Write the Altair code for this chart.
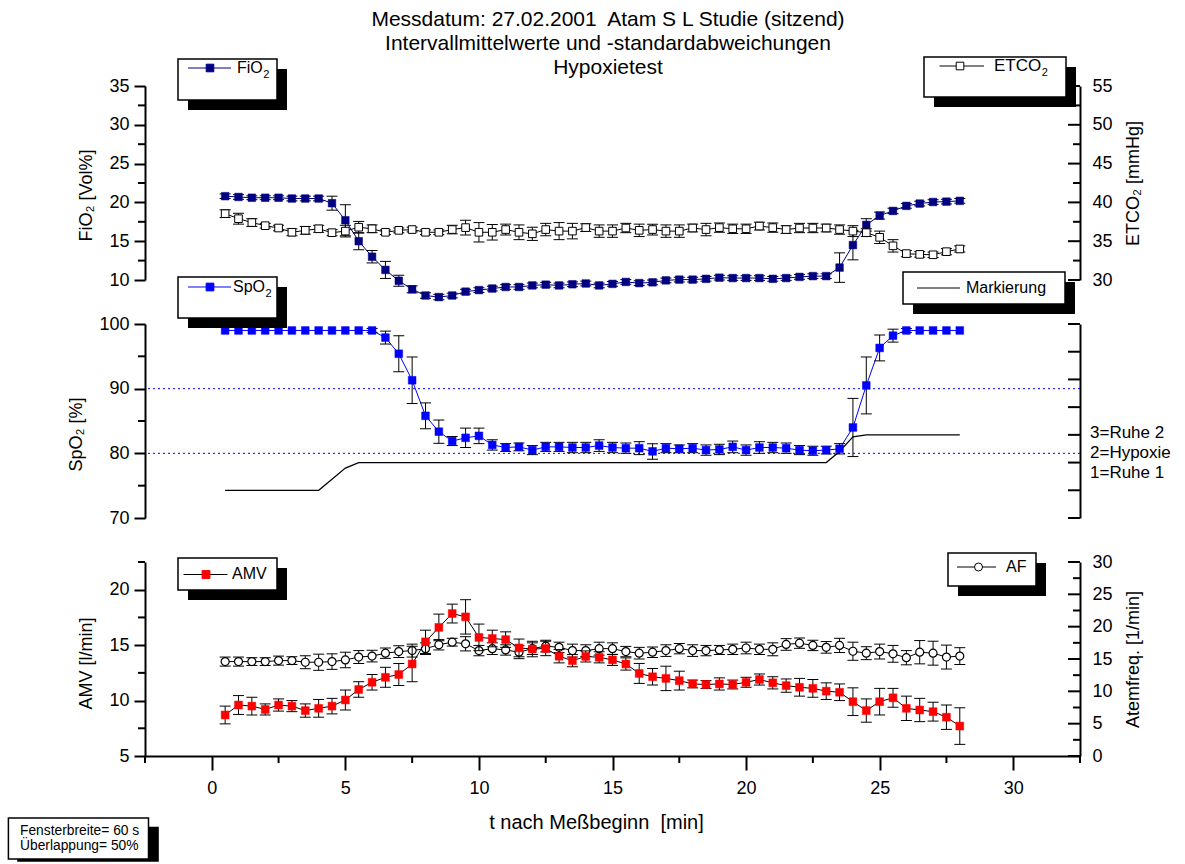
import altair as alt
import pandas as pd

FONT = "Liberation Sans"
W, H, GAP = 935, 194, 44
OX = 145
OY_TOP, OY_MID, OY_BOT = 86, 324, 562

# ---------------- data ----------------
T = [0.5, 1.0, 1.5, 2.0, 2.5, 3.0, 3.5, 4.0, 4.5, 5.0,
     5.5, 6.0, 6.5, 7.0, 7.5, 8.0, 8.5, 9.0, 9.5, 10.0,
     10.5, 11.0, 11.5, 12.0, 12.5, 13.0, 13.5, 14.0, 14.5, 15.0,
     15.5, 16.0, 16.5, 17.0, 17.5, 18.0, 18.5, 19.0, 19.5, 20.0,
     20.5, 21.0, 21.5, 22.0, 22.5, 23.0, 23.5, 24.0, 24.5, 25.0,
     25.5, 26.0, 26.5, 27.0, 27.5, 28.0]

FIO2 = [20.8, 20.7, 20.6, 20.6, 20.6, 20.5, 20.5, 20.5, 19.9, 17.7,
        15.0, 13.0, 11.3, 9.9, 8.8, 8.0, 7.8, 8.0, 8.5, 8.7,
        8.9, 9.1, 9.1, 9.3, 9.4, 9.3, 9.45, 9.55, 9.3, 9.5,
        9.75, 9.6, 9.7, 9.95, 10.05, 10.05, 10.15, 10.3, 10.25, 10.25,
        10.25, 10.15, 10.25, 10.4, 10.5, 10.5, 11.6, 14.5, 17.1, 18.3,
        18.9, 19.55, 19.85, 20.05, 20.1, 20.2]
FIO2_ERR = [0.3, 0.3, 0.25, 0.25, 0.25, 0.3, 0.3, 0.3, 0.9, 2.0,
            1.1, 0.8, 1.1, 0.7, 0.45, 0.35, 0.35, 0.3, 0.3, 0.3,
            0.3, 0.3, 0.3, 0.3, 0.3, 0.3, 0.3, 0.3, 0.3, 0.3,
            0.3, 0.3, 0.3, 0.3, 0.3, 0.3, 0.3, 0.3, 0.3, 0.3,
            0.3, 0.3, 0.3, 0.3, 0.3, 0.3, 1.9, 1.9, 0.8, 0.45,
            0.35, 0.3, 0.3, 0.3, 0.3, 0.3]

ETCO2 = [38.55, 37.9, 37.4, 37.0, 36.7, 36.15, 36.4, 36.6, 36.1, 36.3,
         36.8, 36.6, 36.15, 36.4, 36.5, 36.15, 36.15, 36.5, 36.75, 36.15,
         36.15, 36.5, 36.15, 35.95, 36.5, 36.3, 36.3, 36.75, 36.3, 36.3,
         36.7, 36.4, 36.5, 36.3, 36.3, 36.7, 36.5, 36.75, 36.6, 36.6,
         36.95, 36.75, 36.5, 36.7, 36.7, 36.7, 36.5, 36.3, 36.1, 35.5,
         34.4, 33.4, 33.3, 33.25, 33.65, 34.0]
ETCO2_ERR = [0.5, 0.7, 0.5, 0.3, 0.35, 0.45, 0.5, 0.45, 0.4, 0.75,
             0.75, 0.5, 0.3, 0.3, 0.3, 0.3, 0.3, 0.55, 0.95, 1.25,
             1.0, 0.7, 0.95, 0.85, 0.8, 1.1, 1.0, 0.5, 0.8, 0.8,
             0.6, 0.8, 0.7, 0.8, 0.8, 0.5, 0.8, 0.6, 0.6, 0.6,
             0.5, 0.6, 0.5, 0.6, 0.6, 0.5, 0.6, 0.7, 0.5, 0.8,
             0.8, 0.4, 0.35, 0.35, 0.4, 0.4]

SPO2 = [99.0, 99.0, 99.0, 99.0, 99.0, 99.0, 99.0, 99.0, 99.0, 99.0,
        99.0, 99.0, 97.9, 95.4, 91.3, 85.8, 83.35, 81.9, 82.4, 82.7,
        81.3, 80.9, 81.0, 80.5, 81.0, 81.0, 80.9, 80.9, 81.2, 80.9,
        80.8, 80.8, 80.3, 80.8, 80.7, 80.8, 80.5, 80.6, 81.0, 80.5,
        80.9, 80.9, 80.8, 80.5, 80.4, 80.5, 80.7, 84.0, 90.5, 96.3,
        98.2, 99.0, 99.0, 99.0, 99.0, 99.0]
SPO2_ERR = [0, 0, 0, 0, 0, 0, 0, 0, 0, 0,
            0, 0.3, 1.0, 2.8, 3.6, 2.0, 1.8, 0.7, 1.5, 1.2,
            0.8, 0.6, 0.6, 0.7, 0.7, 0.7, 0.8, 0.8, 0.9, 0.8,
            0.8, 1.0, 1.2, 0.7, 0.6, 0.7, 0.8, 0.8, 0.9, 0.8,
            0.9, 0.8, 0.8, 0.7, 0.7, 0.6, 0.8, 4.5, 4.4, 2.0,
            1.0, 0.3, 0, 0, 0, 0]

MARK = [1, 1, 1, 1, 1, 1, 1, 1, 1.4, 1.8,
        2, 2, 2, 2, 2, 2, 2, 2, 2, 2,
        2, 2, 2, 2, 2, 2, 2, 2, 2, 2,
        2, 2, 2, 2, 2, 2, 2, 2, 2, 2,
        2, 2, 2, 2, 2, 2, 2.4, 2.93, 3, 3,
        3, 3, 3, 3, 3, 3]

AMV = [8.7, 9.6, 9.5, 9.2, 9.6, 9.5, 9.1, 9.3, 9.5, 10.05,
       11.0, 11.65, 12.1, 12.35, 13.3, 15.3, 16.6, 17.85, 17.55, 15.7,
       15.6, 15.5, 14.75, 14.65, 14.7, 14.0, 13.6, 13.98, 13.9, 13.67,
       13.3, 12.45, 12.15, 12.0, 11.8, 11.5, 11.45, 11.5, 11.45, 11.65,
       11.9, 11.6, 11.35, 11.2, 11.1, 10.85, 10.75, 9.9, 9.1, 9.9,
       10.25, 9.3, 9.15, 9.0, 8.5, 7.7]
AMV_ERR = [0.8, 0.85, 0.8, 0.5, 0.55, 0.5, 0.6, 0.8, 0.7, 0.9,
           0.7, 0.7, 0.9, 1.0, 1.6, 1.05, 1.2, 0.85, 1.55, 1.2,
           0.75, 0.7, 0.8, 0.7, 0.65, 0.6, 0.55, 0.5, 0.5, 0.5,
           0.55, 0.9, 0.75, 1.1, 0.85, 0.35, 0.35, 0.55, 0.4, 0.45,
           0.5, 0.55, 0.6, 0.8, 0.8, 0.75, 0.75, 1.25, 1.05, 1.2,
           0.85, 1.1, 1.05, 0.85, 1.1, 1.65]

AF = [14.6, 14.6, 14.6, 14.6, 14.75, 14.75, 14.5, 14.5, 14.6, 14.85,
      15.3, 15.45, 15.9, 16.15, 16.3, 16.6, 17.2, 17.6, 17.35, 16.3,
      16.6, 16.4, 16.05, 16.6, 17.0, 16.8, 16.3, 16.3, 16.6, 16.6,
      16.15, 15.9, 16.05, 16.3, 16.6, 16.3, 16.3, 16.4, 16.5, 16.7,
      16.5, 16.5, 17.25, 17.45, 17.1, 16.8, 17.1, 16.2, 15.9, 16.15,
      15.8, 15.2, 16.05, 15.9, 15.3, 15.45]
AF_ERR = [0.7, 0.7, 0.6, 0.6, 0.7, 0.6, 1.0, 1.25, 1.2, 1.2,
          1.0, 0.9, 0.8, 0.9, 1.0, 0.9, 0.8, 0.6, 1.1, 0.8,
          0.9, 0.8, 1.0, 0.9, 0.9, 0.8, 1.0, 0.9, 1.0, 0.9,
          0.8, 0.9, 0.8, 0.9, 0.8, 0.9, 0.8, 0.7, 0.8, 0.9,
          0.8, 1.0, 0.9, 0.8, 0.8, 0.9, 1.1, 1.4, 1.0, 1.15,
          1.3, 1.1, 1.8, 1.85, 1.85, 1.3]

TITLE_LINES = ["Messdatum: 27.02.2001\u00a0 Atam S L Studie (sitzend)",
               "Intervallmittelwerte und -standardabweichungen",
               "Hypoxietest"]
MARK_LABELS = ["3=Ruhe 2", "2=Hypoxie", "1=Ruhe 1"]
NOTE_LINES = ["Fensterbreite= 60 s", "\u00dcberlappung= 50%"]

X_MAJOR = [0, 5, 10, 15, 20, 25, 30]
X_MINOR = [-2.5, 2.5, 7.5, 12.5, 17.5, 22.5, 27.5, 32.5]
FIO2_MAJOR = [10, 15, 20, 25, 30, 35]
FIO2_MINOR = [12.5, 17.5, 22.5, 27.5, 32.5]
ETCO2_MAJOR = [30, 35, 40, 45, 50, 55]
ETCO2_MINOR = [32.5, 37.5, 42.5, 47.5, 52.5]
SPO2_MAJOR = [70, 80, 90, 100]
SPO2_MINOR = [75, 85, 95]
SPO2_REF = [80, 90]
MARK_TICKS = [0, 1, 2, 3, 4, 5, 6, 7]
AMV_MAJOR = [5, 10, 15, 20]
AMV_MINOR = [7.5, 12.5, 17.5, 22.5]
AF_MAJOR = [0, 5, 10, 15, 20, 25, 30]
AF_MINOR = [2.5, 7.5, 12.5, 17.5, 22.5, 27.5]

NAVY, BLUE, RED = "#000080", "#0000ff", "#ff0000"

df = pd.DataFrame(dict(t=T, fio2=FIO2, fio2_e=FIO2_ERR, etco2=ETCO2, etco2_e=ETCO2_ERR,
                       spo2=SPO2, spo2_e=SPO2_ERR, mark=MARK, amv=AMV, amv_e=AMV_ERR,
                       af=AF, af_e=AF_ERR))
ONE = pd.DataFrame({"k": [0]})

XSCALE = alt.Scale(domain=[-2.5, 32.5], nice=False, zero=False)

CW = {"F": .611, "i": .222, "O": .778, "E": .667, "T": .611, "C": .722, "S": .667, "p": .556}


def tw(s, size):
    return sum(CW.get(c, .556) for c in s) * size


def laxis(values, title, title_y):
    return alt.Axis(orient="left", values=values, tickSize=11, tickWidth=2, tickColor="black",
                    domainWidth=2, domainColor="black", labelFont=FONT, labelFontSize=18,
                    labelColor="black", labelPadding=5, labelOverlap=False, labelFlush=False,
                    grid=False, title=title, titleFont=FONT, titleFontSize=18,
                    titleFontWeight="normal", titleColor="black", titlePadding=13, titleY=title_y)


def raxis(values, title):
    return alt.Axis(orient="right", values=values, ticks=False, domainWidth=2, domainColor="black",
                    labelFont=FONT, labelFontSize=18, labelColor="black", labelPadding=12,
                    labelOverlap=False, labelFlush=False, grid=False, title=title, titleFont=FONT,
                    titleFontSize=18, titleFontWeight="normal", titleColor="black",
                    titlePadding=12, titleAngle=270, titleBaseline="top")


XAXIS = alt.Axis(values=X_MAJOR, tickSize=14, tickWidth=2, tickColor="black", domainWidth=2,
                 domainColor="black", labelFont=FONT, labelFontSize=18, labelColor="black",
                 labelPadding=9, labelFlush=False, labelOverlap=False, grid=False,
                 title="t nach Me\u00dfbeginn\u00a0\u00a0[min]", titleFont=FONT, titleFontSize=20,
                 titleFontWeight="normal", titleColor="black", titlePadding=15, titleX=451)


def xenc(axis, field="t"):
    return alt.X(f"{field}:Q", scale=XSCALE, axis=axis)


def series(col, ecol, scale, line_color, shape, fill, stroke, size, axis, xaxis, sw=1.0):
    base = alt.Chart(df)
    line = base.mark_line(color=line_color, strokeWidth=1).encode(
        x=xenc(xaxis), y=alt.Y(f"{col}:Q", scale=scale, axis=axis))
    eb = base.transform_filter(f"datum.{ecol} > 0").transform_calculate(
        lo=f"datum.{col} - datum.{ecol}", hi=f"datum.{col} + datum.{ecol}")
    rule = eb.mark_rule(color="black", strokeWidth=1).encode(
        x=xenc(xaxis), y=alt.Y("lo:Q", scale=scale, axis=axis), y2="hi:Q")
    cap_lo = eb.mark_tick(orient="horizontal", color="black", size=11, thickness=1, opacity=1).encode(
        x=xenc(xaxis), y=alt.Y("lo:Q", scale=scale, axis=axis))
    cap_hi = eb.mark_tick(orient="horizontal", color="black", size=11, thickness=1, opacity=1).encode(
        x=xenc(xaxis), y=alt.Y("hi:Q", scale=scale, axis=axis))
    pts = base.mark_point(shape=shape, filled=True, fill=fill, stroke=stroke, strokeWidth=sw,
                          size=size, opacity=1).encode(
        x=xenc(xaxis), y=alt.Y(f"{col}:Q", scale=scale, axis=axis))
    return [line, rule, cap_lo, cap_hi, pts]


def yticks(values, scale, axis, x0, x1):
    d = pd.DataFrame({"v": values})
    return alt.Chart(d).mark_rule(color="black", strokeWidth=2).encode(
        y=alt.Y("v:Q", scale=scale, axis=axis), x=alt.value(x0), x2=alt.value(x1))


def prect(x0, y0, x1, y1, oy, **kw):
    return alt.Chart(ONE).mark_rect(**kw).encode(
        x=alt.value(x0 - OX), x2=alt.value(x1 - OX), y=alt.value(y0 - oy), y2=alt.value(y1 - oy))


def ptext(x, y, s, oy, size=16, align="left"):
    return alt.Chart(ONE).mark_text(align=align, baseline="middle", font=FONT, fontSize=size,
                                    color="black").encode(
        x=alt.value(x - OX), y=alt.value(y - oy), text=alt.value(s))


def pline(x0, x1, y, oy, color, width=1.0):
    return alt.Chart(ONE).mark_rule(color=color, strokeWidth=width).encode(
        x=alt.value(x0 - OX), x2=alt.value(x1 - OX), y=alt.value(y - oy))


def ppoint(x, y, oy, shape, fill, stroke, size, sw=1.0):
    return alt.Chart(ONE).mark_point(shape=shape, filled=True, fill=fill, stroke=stroke,
                                     strokeWidth=sw, size=size, opacity=1).encode(
        x=alt.value(x - OX), y=alt.value(y - oy))


def legend(box, oy, label, tpos, sub=None, line=None, marker=None, shadow=(10, 10), size=16):
    x0, y0, x1, y1 = box
    parts = [prect(x0 + shadow[0], y0 + shadow[1], x1 + shadow[0], y1 + shadow[1], oy, fill="black"),
             prect(x0, y0, x1, y1, oy, fill="white", stroke="black", strokeWidth=1.5)]
    if line:
        lx0, lx1, ly, lc = line
        parts.append(pline(lx0, lx1, ly, oy, lc))
    if marker:
        mx, my, shape, fill, stroke, msize = marker
        parts.append(ppoint(mx, my, oy, shape, fill, stroke, msize))
    tx, ty = tpos
    parts.append(ptext(tx, ty, label, oy, size=size))
    if sub:
        parts.append(ptext(tx + tw(label, size) + 0.5, ty + 7, sub, oy, size=11))
    return parts


# ---------------- top panel: FiO2 / ETCO2 ----------------
s_fio2 = alt.Scale(domain=[10, 35], nice=False, zero=False)
s_etco2 = alt.Scale(domain=[30, 55], nice=False, zero=False)
ax_fio2 = laxis(FIO2_MAJOR, "FiO\u2082 [Vol%]", 109)
ax_etco2 = raxis(ETCO2_MAJOR, "ETCO\u2082 [mmHg]")

anchor = alt.Chart(ONE).mark_rule(color="white", strokeWidth=1).encode(
    x=alt.value(-OX + 0.5), y=alt.value(-OY_TOP + 0.5), y2=alt.value(-OY_TOP + 1.5))

fio2_layer = alt.layer(
    *series("fio2", "fio2_e", s_fio2, NAVY, "square", NAVY, NAVY, 58, ax_fio2, None, sw=0.5),
    yticks(FIO2_MINOR, s_fio2, ax_fio2, -7, 0))
etco2_layer = alt.layer(
    *series("etco2", "etco2_e", s_etco2, "black", "square", "white", "black", 58, ax_etco2, None),
    yticks(ETCO2_MAJOR, s_etco2, ax_etco2, W - 12, W),
    yticks(ETCO2_MINOR, s_etco2, ax_etco2, W - 7, W))

title_marks = [ptext(608, y, s, OY_TOP, size=21, align="center")
               for y, s in zip([20, 44, 68], TITLE_LINES)]

top = alt.layer(
    anchor, fio2_layer, etco2_layer,
    *legend((178, 59, 277, 100), OY_TOP, "FiO", (237, 68), sub="2",
            line=(188, 231, 68, NAVY), marker=(210, 68, "square", NAVY, NAVY, 58)),
    *legend((924, 57, 1066, 97), OY_TOP, "ETCO", (994, 66), sub="2",
            line=(939.5, 984, 66, "black"), marker=(960, 66, "square", "white", "black", 58),
            size=17),
    *title_marks,
).resolve_scale(y="independent").properties(width=W, height=H)

# ---------------- middle panel: SpO2 / Markierung ----------------
s_spo2 = alt.Scale(domain=[70, 100], nice=False, zero=False)
s_mark = alt.Scale(domain=[0, 7], nice=False, zero=False)
ax_spo2 = laxis(SPO2_MAJOR, "SpO\u2082 [%]", 110)
ax_mark = alt.Axis(orient="right", values=MARK_TICKS, ticks=False, labels=False,
                   domainWidth=2, domainColor="black", grid=False, title=None)

ref_lines = alt.Chart(pd.DataFrame({"v": SPO2_REF})).mark_rule(
    color=BLUE, strokeWidth=1, strokeDash=[2, 3]).encode(y=alt.Y("v:Q", scale=s_spo2, axis=ax_spo2))

mark_layer = alt.layer(
    alt.Chart(df).mark_line(color="black", strokeWidth=1.2).encode(
        x=xenc(None), y=alt.Y("mark:Q", scale=s_mark, axis=ax_mark)),
    yticks(MARK_TICKS, s_mark, ax_mark, W - 12, W))
spo2_layer = alt.layer(
    ref_lines,
    *series("spo2", "spo2_e", s_spo2, BLUE, "square", BLUE, BLUE, 60, ax_spo2, None, sw=0.5),
    yticks(SPO2_MINOR, s_spo2, ax_spo2, -7, 0))

mark_text = [ptext(1090, y, s, OY_MID, size=17) for y, s in zip([433, 453, 473], MARK_LABELS)]

mid = alt.layer(
    mark_layer, spo2_layer,
    *legend((178, 277, 277, 318), OY_MID, "SpO", (233, 287), sub="2",
            line=(188, 231, 287, BLUE), marker=(210, 287, "square", BLUE, BLUE, 60)),
    *legend((903, 272, 1065, 304), OY_MID, "Markierung", (966, 288),
            line=(917, 960, 288, "black"), shadow=(10, 10)),
    *mark_text,
).resolve_scale(y="independent").properties(width=W, height=H)

# ---------------- bottom panel: AMV / AF ----------------
s_amv = alt.Scale(domain=[5, 22.5], nice=False, zero=False)
s_af = alt.Scale(domain=[0, 30], nice=False, zero=False)
ax_amv = laxis(AMV_MAJOR, "AMV [l/min]", 101)
ax_af = raxis(AF_MAJOR, "Atemfreq. [1/min]")

x_minor = alt.Chart(pd.DataFrame({"v": X_MINOR})).mark_rule(color="black", strokeWidth=2).encode(
    x=alt.X("v:Q", scale=XSCALE, axis=XAXIS), y=alt.value(H), y2=alt.value(H + 7))

af_layer = alt.layer(
    *series("af", "af_e", s_af, "black", "circle", "white", "black", 64, ax_af, XAXIS, sw=1.2),
    yticks(AF_MAJOR, s_af, ax_af, W - 12, W), yticks(AF_MINOR, s_af, ax_af, W - 7, W))
amv_layer = alt.layer(
    *series("amv", "amv_e", s_amv, "black", "square", RED, RED, 62, ax_amv, XAXIS, sw=0.5),
    yticks(AMV_MINOR, s_amv, ax_amv, -7, 0))

note = [prect(17.2, 826.7, 158.8, 861.7, OY_BOT, fill="black"),
        prect(8.4, 818, 148.5, 859, OY_BOT, fill="white", stroke="black", strokeWidth=1.5),
        ptext(20, 831, NOTE_LINES[0], OY_BOT, size=13.8),
        ptext(20, 846, NOTE_LINES[1], OY_BOT, size=13.8)]

bot = alt.layer(
    af_layer, amv_layer, x_minor,
    *legend((178, 558, 277, 590), OY_BOT, "AMV", (232, 574),
            line=(183.5, 227.5, 574.5, "black"), marker=(206, 574.5, "square", RED, RED, 62)),
    *legend((948, 553, 1036, 586), OY_BOT, "AF", (1006, 567),
            line=(957, 996, 567, "black"), marker=(978.5, 567, "circle", "white", "black", 64)),
    *note,
).resolve_scale(y="independent").properties(width=W, height=H)

chart = alt.vconcat(top, mid, bot, spacing=GAP, bounds="flush",
                    padding={"left": 0, "top": 0, "right": 5, "bottom": 0}
                    ).configure(font=FONT).configure_view(stroke=None)

chart.save("out.html", embed_options={"renderer": "svg", "actions": False})
